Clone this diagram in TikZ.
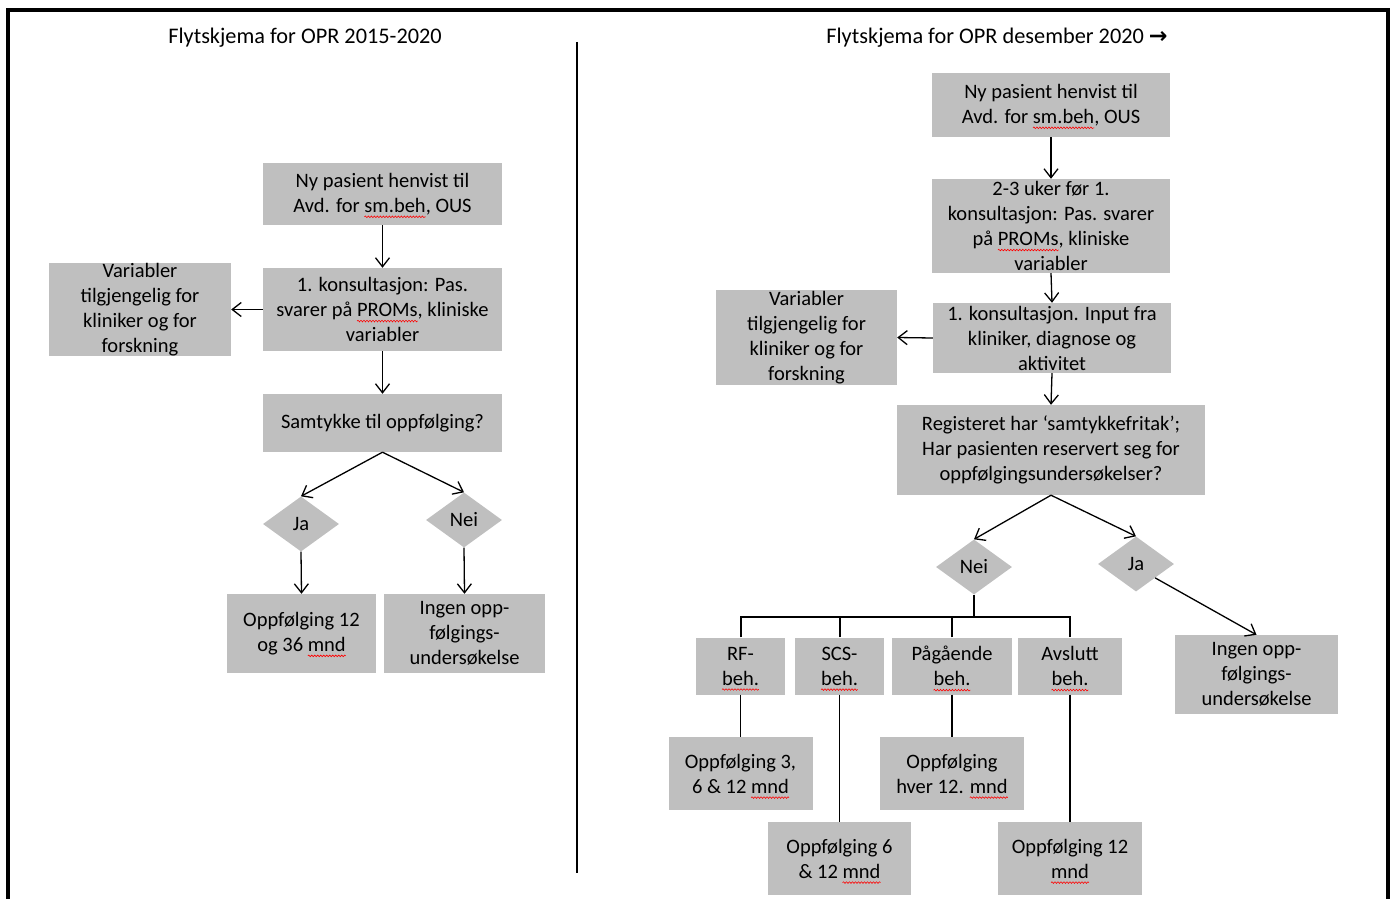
\documentclass[tikz,border=0pt]{standalone}
\usepackage{fontspec}
\setmainfont{Carlito}
\newfontfamily\symfont{DejaVu Sans}
\usetikzlibrary{shapes.geometric,arrows.meta,decorations.pathmorphing}
\definecolor{boxgray}{HTML}{BFBFBF}
\newsavebox\spbox
\newcommand\spellerr[1]{\sbox\spbox{#1}\leavevmode\rlap{\tikz[overlay,x=1pt,y=1pt]\draw[red,line width=0.6pt,decorate,decoration={snake,amplitude=0.8pt,segment length=3pt}] (0,-4.5) -- (\the\wd\spbox,-4.5);}\usebox\spbox}
\begin{document}
\begin{tikzpicture}[x=1pt,y=-1pt,
  txt/.style={font=\fontsize{20.5}{25}\selectfont},
  title/.style={font=\fontsize{22.3}{27}\selectfont},
  box/.style={txt,fill=boxgray,inner sep=0pt,align=center},
  dia/.style={txt,fill=boxgray,diamond,inner sep=0pt,minimum width=76pt,minimum height=55pt},
  arr/.style={line width=1.3pt,-{Straight Barb[length=9pt,width=14pt]}},
  ln/.style={line width=1.3pt},
  bus/.style={line width=2pt}]
\useasboundingbox (0,0) rectangle (1394,899);
% frame and divider
\draw[line width=4pt] (8,899) -- (8,10) -- (1388,10) -- (1388,899);
\draw[line width=1.5pt] (577,42) -- (577,873);
% titles
\node[title] (t1) at (305,38) {Flytskjema for OPR 2015-2020};
\node[title] (t2) at (997,38) {Flytskjema for OPR desember 2020 {\symfont\bfseries →}};
% left chart
\node[box,minimum width=239pt,minimum height=62pt] (l1) at (382.5,194) {Ny pasient henvist til\\Avd. for \spellerr{sm.beh}, OUS};
\node[box,minimum width=239pt,minimum height=83pt] (l2) at (382.5,309.5) {1. konsultasjon: Pas.\\svarer på \spellerr{PROMs}, kliniske\\variabler};
\node[box,minimum width=182pt,minimum height=93pt] (lvar) at (140,309.5) {Variabler\\tilgjengelig for\\kliniker og for\\forskning};
\node[box,minimum width=239pt,minimum height=58pt] (l3) at (382.5,423) {Samtykke til oppfølging?};
\node[dia] (lja) at (301,524) {Ja};
\node[dia] (lnei) at (464,520) {Nei};
\node[box,minimum width=149pt,minimum height=79pt] (lopp) at (301.5,633.5) {Oppfølging 12\\og 36 \spellerr{mnd}};
\node[box,minimum width=161pt,minimum height=79pt] (lingen) at (464.5,633.5) {Ingen opp-\\følgings-\\undersøkelse};
\draw[arr] (l1.south) -- (l2.north);
\draw[arr] (l2.south) -- (l3.north);
\draw[arr] (l2.west) -- (lvar.east);
\draw[arr] (l3.south) -- (lja.north);
\draw[arr] (l3.south) -- (lnei.north);
\draw[arr] (lja.south) -- (lopp.north);
\draw[arr] (lnei.south) -- (lingen.north);
% right chart
\node[box,minimum width=238pt,minimum height=64pt] (r1) at (1051,105) {Ny pasient henvist til\\Avd. for \spellerr{sm.beh}, OUS};
\node[box,minimum width=238pt,minimum height=94pt] (r2) at (1051,226) {2-3 uker før 1.\\konsultasjon: Pas. svarer\\på \spellerr{PROMs}, kliniske\\variabler};
\node[box,minimum width=181pt,minimum height=95pt] (rvar) at (806.5,337.5) {Variabler\\tilgjengelig for\\kliniker og for\\forskning};
\node[box,minimum width=238pt,minimum height=70pt] (r3) at (1052,338) {1. konsultasjon. Input fra\\kliniker, diagnose og\\aktivitet};
\node[box,minimum width=308pt,minimum height=90pt] (r4) at (1051,450) {Registeret har ‘samtykkefritak’;\\Har pasienten reservert seg for\\oppfølgingsundersøkelser?};
\node[dia] (rnei) at (974,567) {Nei};
\node[dia] (rja) at (1136,564) {Ja};
\node[box,minimum width=163pt,minimum height=79pt] (ringen) at (1256.5,674.5) {Ingen opp-\\følgings-\\undersøkelse};
\node[box,minimum width=89pt,minimum height=57pt] (rf) at (740.5,666) {RF-\\\spellerr{beh.}};
\node[box,minimum width=89pt,minimum height=57pt] (scs) at (839.5,666) {SCS-\\\spellerr{beh.}};
\node[box,minimum width=120pt,minimum height=57pt] (pag) at (952,666) {Pågående\\\spellerr{beh.}};
\node[box,minimum width=104pt,minimum height=57pt] (avs) at (1070,666) {Avslutt\\\spellerr{beh.}};
\node[box,minimum width=144pt,minimum height=73pt] (o1) at (740.5,773.5) {Oppfølging 3,\\6 \& 12 \spellerr{mnd}};
\node[box,minimum width=143pt,minimum height=73pt] (o2) at (839.5,858.5) {Oppfølging 6\\\& 12 \spellerr{mnd}};
\node[box,minimum width=144pt,minimum height=73pt] (o3) at (952,773.5) {Oppfølging\\hver 12. \spellerr{mnd}};
\node[box,minimum width=144pt,minimum height=73pt] (o4) at (1070,858.5) {Oppfølging 12\\\spellerr{mnd}};
\draw[arr] (r1.south) -- (r2.north);
\draw[arr] (r2.south) -- (r3.north);
\draw[arr] (r3.west) -- (rvar.east);
\draw[arr] (r3.south) -- (r4.north);
\draw[arr] (r4.south) -- (rnei.north);
\draw[arr] (r4.south) -- (rja.north);
\draw[arr] (rja.south east) -- (ringen.north);
\draw[bus] (rnei.south) -- ++(0,22) coordinate (busc);
\draw[bus] (rf.north) |- (busc);
\draw[bus] (scs.north) |- (busc);
\draw[bus] (pag.north) |- (busc);
\draw[bus] (avs.north) |- (busc);
\draw[ln] (rf.south) -- (o1.north);
\draw[ln] (scs.south) -- (o2.north);
\draw[ln] (pag.south) -- (o3.north);
\draw[ln] (avs.south) -- (o4.north);
\end{tikzpicture}
\end{document}
